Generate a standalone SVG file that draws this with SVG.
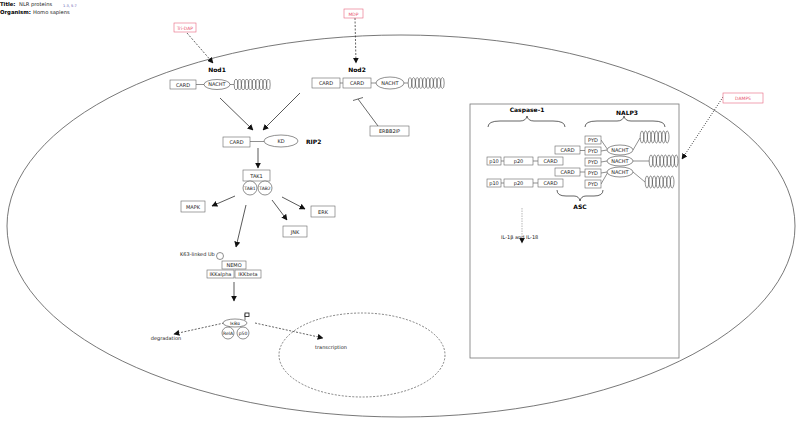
<svg xmlns="http://www.w3.org/2000/svg" xmlns:xlink="http://www.w3.org/1999/xlink" width="800" height="425" viewBox="0 0 800 425">
<style>
text{font-family:"DejaVu Sans","Liberation Sans",sans-serif;font-size:5px;fill:#222}
.b{font-weight:bold;font-size:6px;fill:#000}
.box{fill:#fff;stroke:#666;stroke-width:0.6}
.pbox{fill:#fff;stroke:#e8667f;stroke-width:0.6}
.ln{stroke:#444;stroke-width:0.6;fill:none}
.ar{stroke:#111;stroke-width:0.7;fill:none;marker-end:url(#ah)}
.da{stroke:#222;stroke-width:0.7;fill:none;stroke-dasharray:2,1.5;marker-end:url(#ah)}
.el{fill:#fff;stroke:#444;stroke-width:0.6}
.coil{fill:none;stroke:#444;stroke-width:0.6}
.br{fill:none;stroke:#222;stroke-width:0.7}
.c{text-anchor:middle}
</style>
<defs>
<marker id="ah" viewBox="0 0 10 10" refX="9" refY="5" markerWidth="6" markerHeight="6" orient="auto" markerUnits="userSpaceOnUse"><path d="M0,0L10,5L0,10z" fill="#111"/></marker>
<g id="coil10"><ellipse cx="2" cy="0" rx="1.8" ry="5.5"/><ellipse cx="5.6" cy="0" rx="1.8" ry="5.5"/><ellipse cx="9.2" cy="0" rx="1.8" ry="5.5"/><ellipse cx="12.8" cy="0" rx="1.8" ry="5.5"/><ellipse cx="16.4" cy="0" rx="1.8" ry="5.5"/><ellipse cx="20" cy="0" rx="1.8" ry="5.5"/><ellipse cx="23.6" cy="0" rx="1.8" ry="5.5"/><ellipse cx="27.2" cy="0" rx="1.8" ry="5.5"/><ellipse cx="30.8" cy="0" rx="1.8" ry="5.5"/><ellipse cx="34.4" cy="0" rx="1.8" ry="5.5"/></g>
<g id="coil8"><ellipse cx="2" cy="0" rx="1.8" ry="6"/><ellipse cx="5.6" cy="0" rx="1.8" ry="6"/><ellipse cx="9.2" cy="0" rx="1.8" ry="6"/><ellipse cx="12.8" cy="0" rx="1.8" ry="6"/><ellipse cx="16.4" cy="0" rx="1.8" ry="6"/><ellipse cx="20" cy="0" rx="1.8" ry="6"/><ellipse cx="23.6" cy="0" rx="1.8" ry="6"/><ellipse cx="27.2" cy="0" rx="1.8" ry="6"/></g>
</defs>
<rect width="800" height="425" fill="#fff"/>

<g id="title">
<text x="0" y="6" class="b" style="font-size:5.3px">Title:</text><text x="19" y="6" style="font-size:5.2px">NLR proteins</text>
<text x="63" y="7" style="font-size:3.5px;fill:#55a">1-3, 5-7</text>
<text x="0" y="14" class="b" style="font-size:5.3px">Organism:</text><text x="33" y="14" style="font-size:5.2px">Homo sapiens</text>
</g>

<g id="cell"><ellipse cx="401" cy="226" rx="394" ry="191" fill="none" stroke="#555" stroke-width="0.8"/></g>
<g id="nucleus"><ellipse cx="362" cy="355" rx="83" ry="42" fill="none" stroke="#333" stroke-width="0.6" stroke-dasharray="2,1.5"/></g>

<g id="connectors">
<path class="da" d="M187,33L213,63"/>
<path class="da" d="M355,18L356,63"/>
<path class="ar" d="M220,98L253,130"/>
<path class="ar" d="M300,93L263,130"/>
<path class="ar" d="M258,148L258,168"/>
<path class="ar" d="M235,196L212,206"/>
<path class="ar" d="M282,197L305,209"/>
<path class="ar" d="M272,200L287,220"/>
<path class="ar" d="M246,205L236,247"/>
<path class="ar" d="M234,282L234,301"/>
<path class="da" d="M224,323L174,334"/>
<path class="da" d="M255,323L323,338"/>
<path class="ln" d="M378,126L358,99M353,100.5L363,97.5" style="stroke-width:0.8"/>
<path class="da" d="M723,97L682,159" style="stroke-dasharray:1.2,1.2"/>
<path class="da" d="M522,208L522,243" style="stroke:#999;stroke-dasharray:1.5,1"/>
</g>

<g id="tridap"><rect class="pbox" x="174" y="23" width="22" height="9"/><text x="185" y="29.5" class="c" style="fill:#e8566f;font-size:4.5px">Tri-DAP</text></g>
<g id="mdp"><rect class="pbox" x="344" y="9" width="19" height="9"/><text x="353.5" y="15.5" class="c" style="fill:#e8566f;font-size:4.5px">MDP</text></g>
<g id="damps"><rect class="pbox" x="723" y="93" width="40" height="10"/><text x="743" y="100" class="c" style="fill:#e8566f;font-size:4.5px">DAMPS</text></g>

<g id="nod1">
<text x="217" y="72" class="b c">Nod1</text>
<path class="ln" d="M196,84.5L204,84.5M230,84.5L234,84.5"/>
<rect class="box" x="170" y="80" width="26" height="9"/><text x="183" y="86.5" class="c">CARD</text>
<ellipse class="el" cx="217" cy="84.5" rx="13" ry="5"/><text x="217" y="86.3" class="c">NACHT</text>
<use href="#coil10" x="234" y="84.5" class="coil"/>
</g>

<g id="nod2">
<text x="357" y="72" class="b c">Nod2</text>
<path class="ln" d="M340,83L343,83M371,83L376,83M404,83L408,83"/>
<rect class="box" x="312" y="78" width="28" height="10"/><text x="326" y="85" class="c">CARD</text>
<rect class="box" x="343" y="78" width="28" height="10"/><text x="357" y="85" class="c">CARD</text>
<ellipse class="el" cx="390" cy="83" rx="14" ry="6"/><text x="390" y="85" class="c">NACHT</text>
<use href="#coil10" x="408" y="83" class="coil"/>
</g>

<g id="erbb2ip"><rect class="box" x="370" y="126" width="39" height="10"/><text x="389.5" y="133" class="c">ERBB2IP</text></g>

<g id="rip2">
<path class="ln" d="M250,141.5L264,141.5"/>
<rect class="box" x="223" y="137" width="27" height="10"/><text x="236.5" y="144" class="c">CARD</text>
<ellipse class="el" cx="281" cy="141" rx="17" ry="6"/><text x="281" y="143" class="c">KD</text>
<text x="306" y="144"><tspan class="b">RIP2</tspan></text>
</g>

<g id="tak1">
<rect class="box" x="243" y="170" width="27" height="11"/><text x="256.5" y="177.5" class="c">TAK1</text>
<circle class="el" cx="250" cy="188" r="7"/><text x="250" y="190" class="c" style="font-size:4.5px">TAB1</text>
<circle class="el" cx="265" cy="188" r="7"/><text x="265" y="190" class="c" style="font-size:4.5px">TAB2</text>
</g>

<g id="mapk"><rect class="box" x="181" y="201" width="24" height="11"/><text x="193" y="208.5" class="c">MAPK</text></g>
<g id="erk"><rect class="box" x="311" y="206" width="24" height="11"/><text x="323" y="213.5" class="c">ERK</text></g>
<g id="jnk"><rect class="box" x="283" y="226" width="24" height="11"/><text x="295" y="233.5" class="c">JNK</text></g>

<g id="ikk">
<text x="180" y="256">K63-linked Ub</text>
<circle class="el" cx="220" cy="256" r="3.5"/>
<rect class="box" x="222" y="261" width="24" height="8"/><text x="234" y="266.8" class="c">NEMO</text>
<rect class="box" x="207" y="270" width="27" height="8"/><text x="220.5" y="275.8" class="c">IKKalpha</text>
<rect class="box" x="235" y="270" width="26" height="8"/><text x="248" y="275.8" class="c">IKKbeta</text>
</g>

<g id="ikba">
<ellipse class="el" cx="235" cy="323" rx="12" ry="4"/><text x="235" y="324.8" class="c" style="font-size:4.5px">IκBα</text>
<path d="M245,320L245,314" stroke="#111" stroke-width="0.6"/><rect x="245" y="313" width="4" height="3.5" fill="#fff" stroke="#111" stroke-width="0.8"/>
<circle class="el" cx="228" cy="333" r="6"/><text x="228" y="334.8" class="c" style="font-size:4.5px">RelA</text>
<circle class="el" cx="243" cy="333" r="6"/><text x="243" y="334.8" class="c" style="font-size:4.5px">p50</text>
</g>
<g id="degradation"><text x="166" y="340" class="c">degradation</text></g>
<g id="transcription"><text x="331" y="349" class="c">transcription</text></g>

<g id="inflammasome">
<rect x="470" y="104" width="209" height="254" fill="none" stroke="#777" stroke-width="0.8"/>
<text x="527" y="112" class="b c">Caspase-1</text>
<text x="627" y="115" class="b c">NALP3</text>
<path class="br" d="M488,127Q488,121 500,121L520,121Q526,121 527,116Q528,121 534,121L553,121Q565,121 565,127"/>
<path class="br" d="M585,127Q585,121 597,121L617,121Q623,121 624,116Q625,121 631,121L653,121Q665,121 665,127"/>
<path class="br" d="M557,190Q557,196 566,196L574,196Q579,196 580,201Q581,196 586,196L594,196Q603,196 603,190"/>
<text x="580" y="209" class="b c">ASC</text>
<path class="ln" d="M501,161L504,161M533,161L538,161M501,183L504,183M533,183L538,183M580,150.5L585,150.5M580,172L585,172"/>
<path class="ln" d="M601,140L608,150M601,151L607,150M601,162L607,161M601,173L607,172M601,184L608,172"/>
<path class="ln" d="M633,150L640,138M633,161L649,161M633,172L645,182"/>
<rect class="box" x="487" y="157" width="14" height="8"/><text x="494" y="162.8" class="c">p10</text>
<rect class="box" x="504" y="157" width="29" height="8"/><text x="518.5" y="162.8" class="c">p20</text>
<rect class="box" x="538" y="157" width="25" height="8"/><text x="550.5" y="162.8" class="c">CARD</text>
<rect class="box" x="487" y="179" width="14" height="8"/><text x="494" y="184.8" class="c">p10</text>
<rect class="box" x="504" y="179" width="29" height="8"/><text x="518.5" y="184.8" class="c">p20</text>
<rect class="box" x="538" y="179" width="25" height="8"/><text x="550.5" y="184.8" class="c">CARD</text>
<rect class="box" x="555" y="146" width="25" height="8"/><text x="567.5" y="151.8" class="c">CARD</text>
<rect class="box" x="555" y="168" width="25" height="8"/><text x="567.5" y="173.8" class="c">CARD</text>
<rect class="box" x="585" y="136" width="16" height="8"/><text x="593" y="141.8" class="c">PYD</text>
<rect class="box" x="585" y="147" width="16" height="8"/><text x="593" y="152.8" class="c">PYD</text>
<rect class="box" x="585" y="158" width="16" height="8"/><text x="593" y="163.8" class="c">PYD</text>
<rect class="box" x="585" y="169" width="16" height="8"/><text x="593" y="174.8" class="c">PYD</text>
<rect class="box" x="585" y="180" width="16" height="8"/><text x="593" y="185.8" class="c">PYD</text>
<ellipse class="el" cx="620" cy="150" rx="13" ry="5"/><text x="620" y="151.8" class="c">NACHT</text>
<ellipse class="el" cx="620" cy="161" rx="13" ry="5"/><text x="620" y="162.8" class="c">NACHT</text>
<ellipse class="el" cx="620" cy="172" rx="13" ry="5"/><text x="620" y="173.8" class="c">NACHT</text>
<use href="#coil8" x="640" y="137" class="coil"/>
<use href="#coil8" x="649" y="161" class="coil"/>
<use href="#coil8" x="645" y="182" class="coil"/>
<text x="501" y="239">IL-1β and IL-18</text>
</g>
</svg>
